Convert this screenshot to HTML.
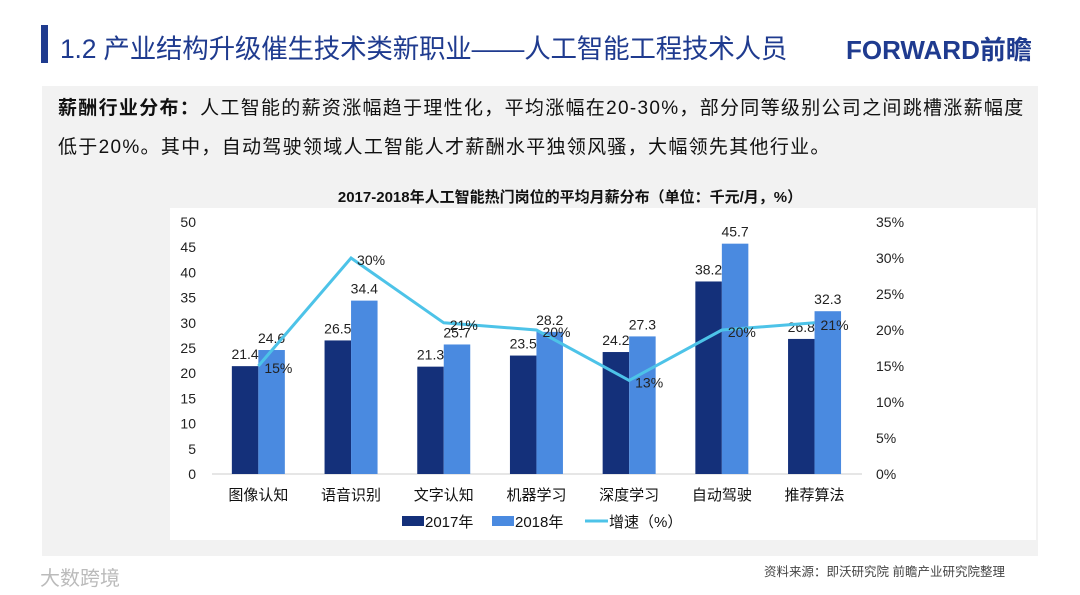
<!DOCTYPE html>
<html><head><meta charset="utf-8">
<style>
body{margin:0;width:1080px;height:595px;background:#fff;font-family:"Liberation Sans","Noto Sans CJK SC",sans-serif;position:relative;overflow:hidden}
.abs{position:absolute}
</style></head><body>
<div class="abs" style="left:41px;top:25px;width:7px;height:38px;background:#1f3b8f"></div>
<div class="abs" style="left:60px;top:27px;font-size:26.5px;letter-spacing:-0.2px;color:#1f3b8f;white-space:nowrap">1.2 产业结构升级催生技术类新职业——人工智能工程技术人员</div>
<div class="abs" style="left:846px;top:30px;font-size:26px;font-weight:bold;color:#1f3b8f;white-space:nowrap">FORWARD前瞻</div>
<div class="abs" style="left:42px;top:86px;width:996px;height:470px;background:#f2f2f2"></div>
<div class="abs" style="left:58px;top:89px;width:980px;font-size:19px;line-height:39px;color:#111;white-space:nowrap;letter-spacing:1.3px">
<b>薪酬行业分布：</b>人工智能的薪资涨幅趋于理性化，平均涨幅在20-30%，部分同等级别公司之间跳槽涨薪幅度<br>低于20%。其中，自动驾驶领域人工智能人才薪酬水平独领风骚，大幅领先其他行业。</div>
<div class="abs" style="left:170px;top:208px;width:866px;height:332px;background:#fff"></div>
<div class="abs" style="left:170px;top:186px;width:800px;text-align:center;font-size:15px;font-weight:bold;color:#111">2017-2018年人工智能热门岗位的平均月薪分布（单位：千元/月，%）</div>
<svg class="abs" style="left:0;top:0" width="1080" height="595" id="chart"></svg>
<div class="abs" style="left:764px;top:561px;font-size:12.5px;color:#444">资料来源：即沃研究院 前瞻产业研究院整理</div>
<div class="abs" style="left:40px;top:562px;font-size:20px;color:#bbb">大数跨境</div>
<script>
const categories=["图像认知","语音识别","文字认知","机器学习","深度学习","自动驾驶","推荐算法"];
const s2017=[21.4,26.5,21.3,23.5,24.2,38.2,26.8];
const s2018=[24.6,34.4,25.7,28.2,27.3,45.7,32.3];
const growth=[15,30,21,20,13,20,21];
const leftTicks=[0,5,10,15,20,25,30,35,40,45,50];
const rightTicks=[0,5,10,15,20,25,30,35];
const svg=document.getElementById('chart');const NS='http://www.w3.org/2000/svg';
function mk(t,a,txt){const e=document.createElementNS(NS,t);for(const k in a)e.setAttribute(k,a[k]);if(txt!==undefined)e.textContent=txt;svg.appendChild(e);return e;}
const y0=474,yTop=222;
const yL=v=>y0-(v/50)*(y0-yTop);
const yR=v=>y0-(v/35)*(y0-yTop);
const x0=212,step=92.7;
const xc=i=>x0+step*(i+0.5);
leftTicks.forEach(t=>{const e=mk('text',{x:196,y:yL(t)+5,'text-anchor':'end','font-size':14,fill:'#222'},t);
});
rightTicks.forEach(t=>{const e=mk('text',{x:876,y:yR(t)+5,'font-size':14,fill:'#222'},t+'%');
});
const ax=mk('line',{x1:212,x2:862,y1:y0,y2:y0,stroke:'#ccc','stroke-width':1});

const bw=26.5;
categories.forEach((c,i)=>{
 const cx=xc(i);
 const b1=mk('rect',{x:cx-bw,y:yL(s2017[i]),width:bw,height:y0-yL(s2017[i]),fill:'#14307a'});
 
 const b2=mk('rect',{x:cx,y:yL(s2018[i]),width:bw,height:y0-yL(s2018[i]),fill:'#4a8ae0'});
 
 const l1=mk('text',{x:cx-bw/2,y:yL(s2017[i])-7,'text-anchor':'middle','font-size':14,fill:'#222'},s2017[i]);
 
 const l2=mk('text',{x:cx+bw/2,y:yL(s2018[i])-7,'text-anchor':'middle','font-size':14,fill:'#222'},s2018[i]);
 
 const cl=mk('text',{x:cx,y:500,'text-anchor':'middle','font-size':15,fill:'#111'},c);
 
});
const line=mk('polyline',{points:growth.map((g,i)=>xc(i)+','+yR(g)).join(' '),fill:'none',stroke:'#4dc3e8','stroke-width':3});

growth.forEach((g,i)=>{const e=mk('text',{x:xc(i)+6,y:yR(g)+7,'font-size':14,fill:'#222'},g+'%');
});
const lg=[[402,'#14307a','2017年'],[492,'#4a8ae0','2018年']];
lg.forEach(l=>{const r=mk('rect',{x:l[0],y:516,width:22,height:10,fill:l[1]});

const t=mk('text',{x:l[0]+23,y:527,'font-size':15,fill:'#111'},l[2]);
});
const ll=mk('line',{x1:585,x2:608,y1:521,y2:521,stroke:'#4dc3e8','stroke-width':3});

const lt=mk('text',{x:609,y:527,'font-size':15,fill:'#111'},'增速（%）');

</script>
</body></html>
